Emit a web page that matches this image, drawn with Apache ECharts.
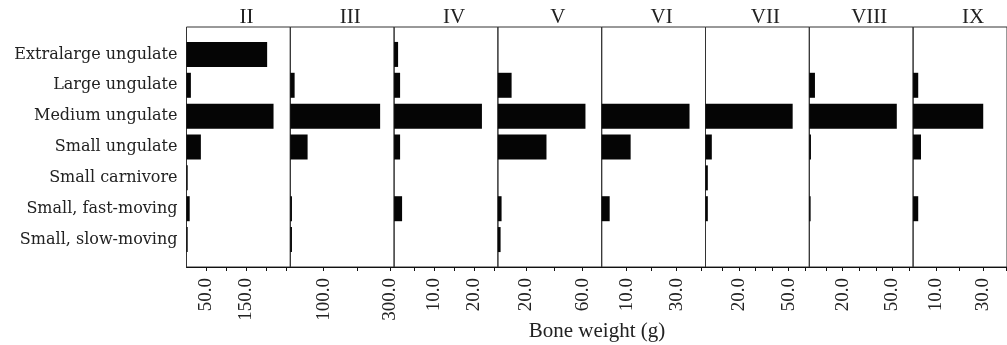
<!DOCTYPE html>
<html lang="en">
<head>
    <meta charset="UTF-8">
    <title>Bone weight by phase</title>
    <script src="https://cdn.jsdelivr.net/npm/echarts@6/dist/echarts.min.js"></script>
    <style>
        html, body { margin: 0; padding: 0; background: #fff; }
    </style>
</head>
<body>
<div id="main" style="width: 1007px;height:345px;"></div>
<script type="text/javascript">
    // categories (top to bottom)
    var categories = ['Extralarge ungulate', 'Large ungulate', 'Medium ungulate', 'Small ungulate',
        'Small carnivore', 'Small, fast-moving', 'Small, slow-moving'];
    var phases = ['II', 'III', 'IV', 'V', 'VI', 'VII', 'VIII', 'IX'];

    // bone weight (g) per phase, same order as categories
    var phaseII = [202, 11, 218, 36, 3, 8, 3];
    var phaseIII = [0, 13, 270, 52, 0, 5, 5];
    var phaseIV = [1.0, 1.5, 22, 1.5, 0, 2.0, 0];
    var phaseV = [0, 9.7, 62, 34.4, 0, 2.6, 1.9];
    var phaseVI = [0, 0, 35.2, 11.6, 0, 3.2, 0];
    var phaseVII = [0, 0, 52.4, 3.8, 1.4, 1.4, 0];
    var phaseVIII = [0, 3.4, 52.6, 1.0, 0, 0.8, 0];
    var phaseIX = [0, 2.2, 30.1, 3.4, 0, 2.2, 0];
    var phaseData = [phaseII, phaseIII, phaseIV, phaseV, phaseVI, phaseVII, phaseVIII, phaseIX];

    // axis settings per panel
    var axisMax = [260, 312, 26, 73.5, 41.6, 62.4, 62.4, 40.3];
    var tickStep = [50, 100, 5, 20, 10, 10, 10, 10];
    var tickLabels = [[50, 150], [100, 300], [10, 20], [20, 60], [10, 30], [20, 50], [20, 50], [10, 30]];

    var FONT = 'Liberation Serif';
    var WIDE_FONT = 'DejaVu Serif';
    var panelLeft = 186.5, panelWidth = 103.8;

    var myChart = echarts.init(document.getElementById('main'));

    var grids = [], xAxes = [], yAxes = [], series = [], titles = [];

    function labelFormatter(list) {
        return function (v) {
            for (var k = 0; k < list.length; k++) {
                if (Math.abs(v - list[k]) < 1e-6) return v.toFixed(1);
            }
            return '';
        };
    }

    // frame grids (border + bottom axis with ticks)
    for (var i = 0; i < phases.length; i++) {
        var left = panelLeft + i * panelWidth;
        grids.push({
            left: left, width: panelWidth, top: 27, height: 240,
            show: true, borderColor: '#333', borderWidth: 1, backgroundColor: 'transparent'
        });
        xAxes.push({
            type: 'value', gridIndex: i, min: 0, max: axisMax[i], interval: tickStep[i],
            axisLine: {show: true, lineStyle: {color: '#111', width: 1}},
            axisTick: {show: true, length: 4, lineStyle: {color: '#111'}},
            splitLine: {show: false},
            axisLabel: {
                rotate: 90, margin: 11, fontFamily: FONT, fontSize: 19, color: '#222',
                showMinLabel: false, showMaxLabel: false,
                formatter: labelFormatter(tickLabels[i])
            }
        });
        yAxes.push({type: 'value', gridIndex: i, min: 0, max: 1, show: false});
        titles.push({
            text: phases[i], left: left + panelWidth / 2 + 3, top: 2, textAlign: 'center',
            textStyle: {fontFamily: FONT, fontSize: 21, fontWeight: 'normal', color: '#222'}
        });
    }

    // bar grids (inset so the categories sit inside the frame)
    for (var i = 0; i < phases.length; i++) {
        var left = panelLeft + i * panelWidth;
        grids.push({left: left, width: panelWidth, top: 39, height: 216});
        xAxes.push({type: 'value', gridIndex: phases.length + i, min: 0, max: axisMax[i], show: false});
        yAxes.push({
            type: 'category', gridIndex: phases.length + i, data: categories, inverse: true,
            axisLine: {show: false}, axisTick: {show: false},
            axisLabel: {
                show: i === 0, margin: 9, fontFamily: WIDE_FONT, fontSize: 16, color: '#222'
            }
        });
        series.push({
            name: phases[i], type: 'bar',
            xAxisIndex: phases.length + i, yAxisIndex: phases.length + i,
            data: phaseData[i], barWidth: 25,
            itemStyle: {color: '#050505'},
            silent: true
        });
    }

    titles.push({
        text: 'Bone weight (g)', left: 592, top: 316, textAlign: 'center',
        textStyle: {fontFamily: FONT, fontSize: 21, fontWeight: 'normal', color: '#222'}
    });

    var option = {
        animation: false,
        backgroundColor: '#fff',
        title: titles,
        grid: grids,
        xAxis: xAxes,
        yAxis: yAxes,
        series: series
    };
    myChart.setOption(option);
</script>
</body>
</html>
